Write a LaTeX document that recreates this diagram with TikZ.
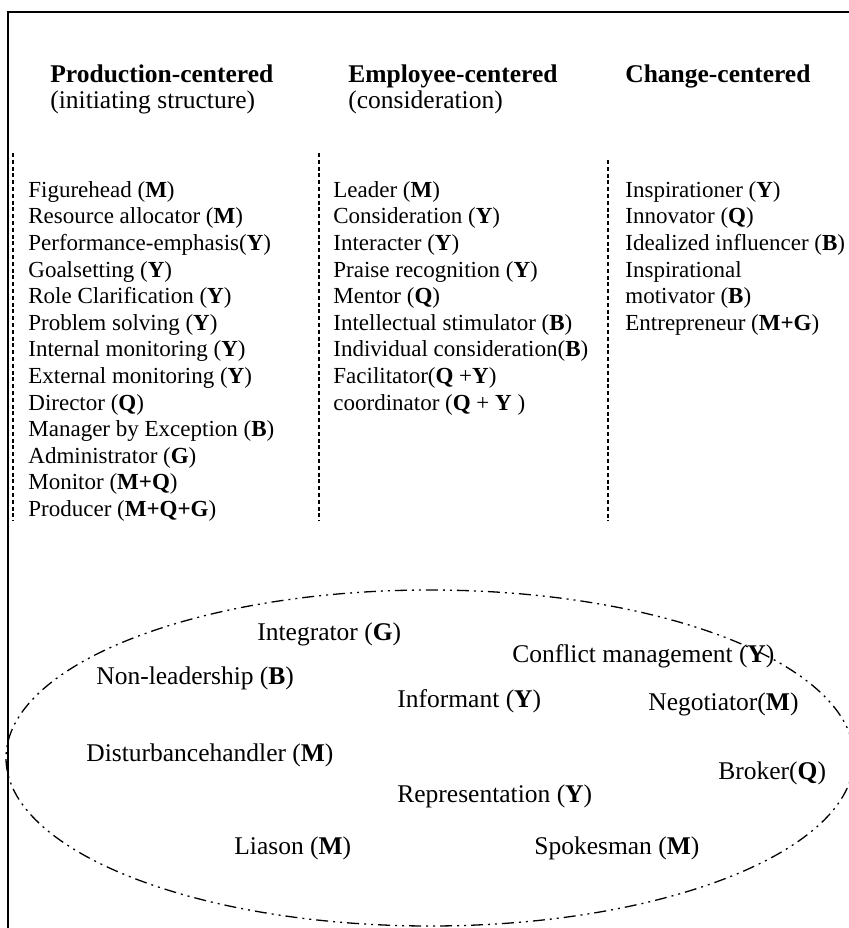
\documentclass[tikz,border=0pt]{standalone}
\usepackage{fontspec}
\setmainfont{Liberation Serif}
\usetikzlibrary{positioning}

\begin{document}
\begin{tikzpicture}[x=0.5pt, y=-0.5pt,
  head/.style={anchor=base west, inner sep=0pt, font=\fontsize{12.75}{13.5}\selectfont},
  rolelist/.style={anchor=north west, inner sep=0pt, align=left, font=\fontsize{11.5}{13.3}\selectfont},
  role/.style={anchor=base west, inner sep=0pt, font=\fontsize{12.75}{13.5}\selectfont},
  colsep/.style={line width=0.7pt, dash pattern=on 2pt off 1.4pt},
  ring/.style={line width=0.65pt, dash pattern=on 6pt off 2.5pt on 1pt off 2.5pt on 1pt off 2.5pt}]
  \useasboundingbox (0,0) rectangle (849,928);
  % frame
  \draw[line width=0.65pt] (8,928) -- (8,12) -- (849,12);

  % column heads
  \node[head] (prodhead) at (50,82) {\textbf{Production-centered}};
  \node[head] (prodsub) at (50,108) {(initiating structure)};
  \node[head] (emplhead) at (348,82) {\textbf{Employee-centered}};
  \node[head] (emplsub) at (348,108) {(consideration)};
  \node[head] (changehead) at (625,82) {\textbf{Change-centered}};

  % column separators
  \draw[colsep] (13,153) -- (13,521);
  \draw[colsep] (319,153) -- (319,521);
  \draw[colsep] (608,160) -- (608,521);

  % roles per column
  \node[rolelist] (prodroles) at (28,181) {Figurehead (\textbf{M})\\
    Resource allocator (\textbf{M})\\
    Performance-emphasis(\textbf{Y})\\
    Goalsetting (\textbf{Y})\\
    Role Clarification (\textbf{Y})\\
    Problem solving (\textbf{Y})\\
    Internal monitoring (\textbf{Y})\\
    External monitoring (\textbf{Y})\\
    Director (\textbf{Q})\\
    Manager by Exception (\textbf{B})\\
    Administrator (\textbf{G})\\
    Monitor (\textbf{M+Q})\\
    Producer (\textbf{M+Q+G})};
  \node[rolelist] (emplroles) at (333,181) {Leader (\textbf{M})\\
    Consideration (\textbf{Y})\\
    Interacter (\textbf{Y})\\
    Praise recognition (\textbf{Y})\\
    Mentor (\textbf{Q})\\
    Intellectual stimulator (\textbf{B})\\
    Individual consideration(\textbf{B})\\
    Facilitator(\textbf{Q} +\textbf{Y})\\
    coordinator (\textbf{Q} + \textbf{Y} )};
  \node[rolelist] (changeroles) at (625,181) {Inspirationer (\textbf{Y})\\
    Innovator (\textbf{Q})\\
    Idealized influencer (\textbf{B})\\
    Inspirational\\
    motivator (\textbf{B})\\
    Entrepreneur (\textbf{M+G})};

  % remaining roles
  \draw[ring] (430,758) ellipse [x radius=424, y radius=168];
  \node[role] (integrator) at (257,640) {Integrator (\textbf{G})};
  \node[role] (conflict) at (512,662) {Conflict management (\textbf{Y})};
  \node[role] (nonlead) at (96,684) {Non-leadership (\textbf{B})};
  \node[role] (informant) at (397,707) {Informant (\textbf{Y})};
  \node[role] (negotiator) at (648,710) {Negotiator(\textbf{M})};
  \node[role] (disturb) at (86,761) {Disturbancehandler (\textbf{M})};
  \node[role] (broker) at (718,779) {Broker(\textbf{Q})};
  \node[role] (represent) at (397,802) {Representation (\textbf{Y})};
  \node[role] (liason) at (234,854) {Liason (\textbf{M})};
  \node[role] (spokesman) at (534,854) {Spokesman (\textbf{M})};
\end{tikzpicture}
\end{document}
